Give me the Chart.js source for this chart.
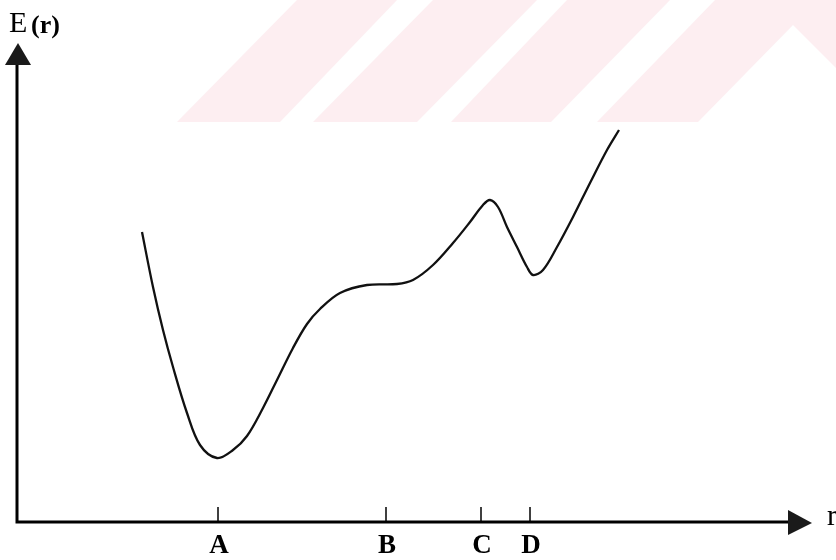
<!DOCTYPE html>
<html>
<head>
<meta charset="utf-8">
<script src="https://cdn.jsdelivr.net/npm/chart.js@4/dist/chart.umd.min.js"></script>
<style>
  html, body { margin: 0; padding: 0; background: #fff; }
  #wrap { width: 836px; height: 560px; }
</style>
</head>
<body>
<div id="wrap"><canvas id="energyChart" width="836" height="560"></canvas></div>
<script>
// r positions and E(r) values (arbitrary units)
const rValues = [1.25, 1.36, 1.46, 1.56, 1.70, 1.83, 2.00, 2.16, 2.30, 2.46, 2.60, 2.76, 2.90, 3.03, 3.23, 3.50,
                 3.80, 3.96, 4.16, 4.36, 4.53, 4.66, 4.73, 4.81, 4.90, 5.00, 5.10, 5.16, 5.26, 5.40, 5.56, 5.73, 5.90, 6.02];
const energyValues = [2.90, 2.35, 1.92, 1.55, 1.09, 0.77, 0.64, 0.72, 0.86, 1.14, 1.42, 1.74, 1.98, 2.13, 2.29, 2.37,
                      2.38, 2.42, 2.57, 2.79, 3.00, 3.17, 3.22, 3.15, 2.95, 2.75, 2.55, 2.47, 2.52, 2.75, 3.05, 3.39, 3.72, 3.92];

// marked points on the r axis
const tickLabels = ["A", "B", "C", "D"];
const tickPositions = [2.01, 3.69, 4.64, 5.13];

const xLabel = "r";
const yLabel = "E";
const yLabelArg = "(r)";

const rMax = 7.95;
const eMax = 4.79;

const points = rValues.map((r, i) => ({ x: r, y: energyValues[i] }));

// faint pink watermark behind the figure
const watermark = {
    id: "watermark",
    beforeDraw(chart) {
        const ctx = chart.ctx;
        ctx.save();
        ctx.fillStyle = "#ffffff";
        ctx.fillRect(0, 0, chart.width, chart.height);
        ctx.fillStyle = "#fdeef1";
        const shapes = [
            [[177, 122], [280, 122], [397, 0], [297, 0]],
            [[313, 122], [417, 122], [537, 0], [433, 0]],
            [[451, 122], [551, 122], [670, 0], [567, 0]],
            [[597, 122], [698, 122], [793, 25], [836, 68], [836, 0], [715, 0]]
        ];
        shapes.forEach(s => {
            ctx.beginPath();
            ctx.moveTo(s[0][0], s[0][1]);
            s.slice(1).forEach(p => ctx.lineTo(p[0], p[1]));
            ctx.closePath();
            ctx.fill();
        });
        ctx.restore();
    }
};

// hand drawn style axes with arrows, ticks and letters
const axesArrows = {
    id: "axesArrows",
    afterDatasetsDraw(chart) {
        const ctx = chart.ctx;
        const xs = chart.scales.x;
        const ys = chart.scales.y;
        const x0 = xs.getPixelForValue(0);
        const y0 = ys.getPixelForValue(0);
        const xEnd = xs.getPixelForValue(rMax);
        const yEnd = ys.getPixelForValue(eMax);

        ctx.save();
        ctx.strokeStyle = "#000";
        ctx.lineWidth = 3;
        ctx.beginPath();
        ctx.moveTo(x0, y0 + 1.5);
        ctx.lineTo(x0, yEnd + 20);
        ctx.moveTo(x0 - 1.5, y0);
        ctx.lineTo(xEnd - 22, y0);
        ctx.stroke();

        // arrow heads
        ctx.fillStyle = "#1a1a1a";
        ctx.beginPath();
        ctx.moveTo(x0 + 1, yEnd);
        ctx.lineTo(x0 + 14, yEnd + 22);
        ctx.lineTo(x0 - 12, yEnd + 22);
        ctx.closePath();
        ctx.fill();
        ctx.beginPath();
        ctx.moveTo(xEnd, y0 + 1);
        ctx.lineTo(xEnd - 24, y0 - 12);
        ctx.lineTo(xEnd - 24, y0 + 13);
        ctx.closePath();
        ctx.fill();

        // tick marks and letters
        ctx.lineWidth = 1.5;
        ctx.font = "bold 27px 'Liberation Serif'";
        ctx.textAlign = "center";
        ctx.textBaseline = "alphabetic";
        ctx.fillStyle = "#000";
        tickPositions.forEach((v, i) => {
            const px = xs.getPixelForValue(v);
            ctx.beginPath();
            ctx.moveTo(px, y0);
            ctx.lineTo(px, y0 - 15);
            ctx.stroke();
            ctx.fillText(tickLabels[i], px + 1, y0 + 31);
        });

        // axis titles
        ctx.textAlign = "left";
        ctx.font = "30px 'Liberation Serif'";
        ctx.fillText(yLabel, 9, 32);
        ctx.font = "bold 26px 'Liberation Serif'";
        ctx.fillText(yLabelArg, 31, 33);
        ctx.font = "30px 'Liberation Serif'";
        ctx.fillText(xLabel, xEnd + 15, y0 + 3);
        ctx.restore();
    }
};

new Chart(document.getElementById("energyChart").getContext("2d"), {
    type: "line",
    data: {
        datasets: [{
            data: points,
            borderColor: "#111",
            borderWidth: 2.3,
            pointRadius: 0,
            fill: false,
            tension: 0.35
        }]
    },
    options: {
        responsive: false,
        animation: false,
        devicePixelRatio: 1,
        layout: { padding: { left: 17, right: 24, top: 43, bottom: 38 } },
        plugins: { legend: { display: false }, tooltip: { enabled: false } },
        scales: {
            x: { type: "linear", min: 0, max: rMax, display: false },
            y: { type: "linear", min: 0, max: eMax, display: false }
        }
    },
    plugins: [watermark, axesArrows]
});
</script>
</body>
</html>
